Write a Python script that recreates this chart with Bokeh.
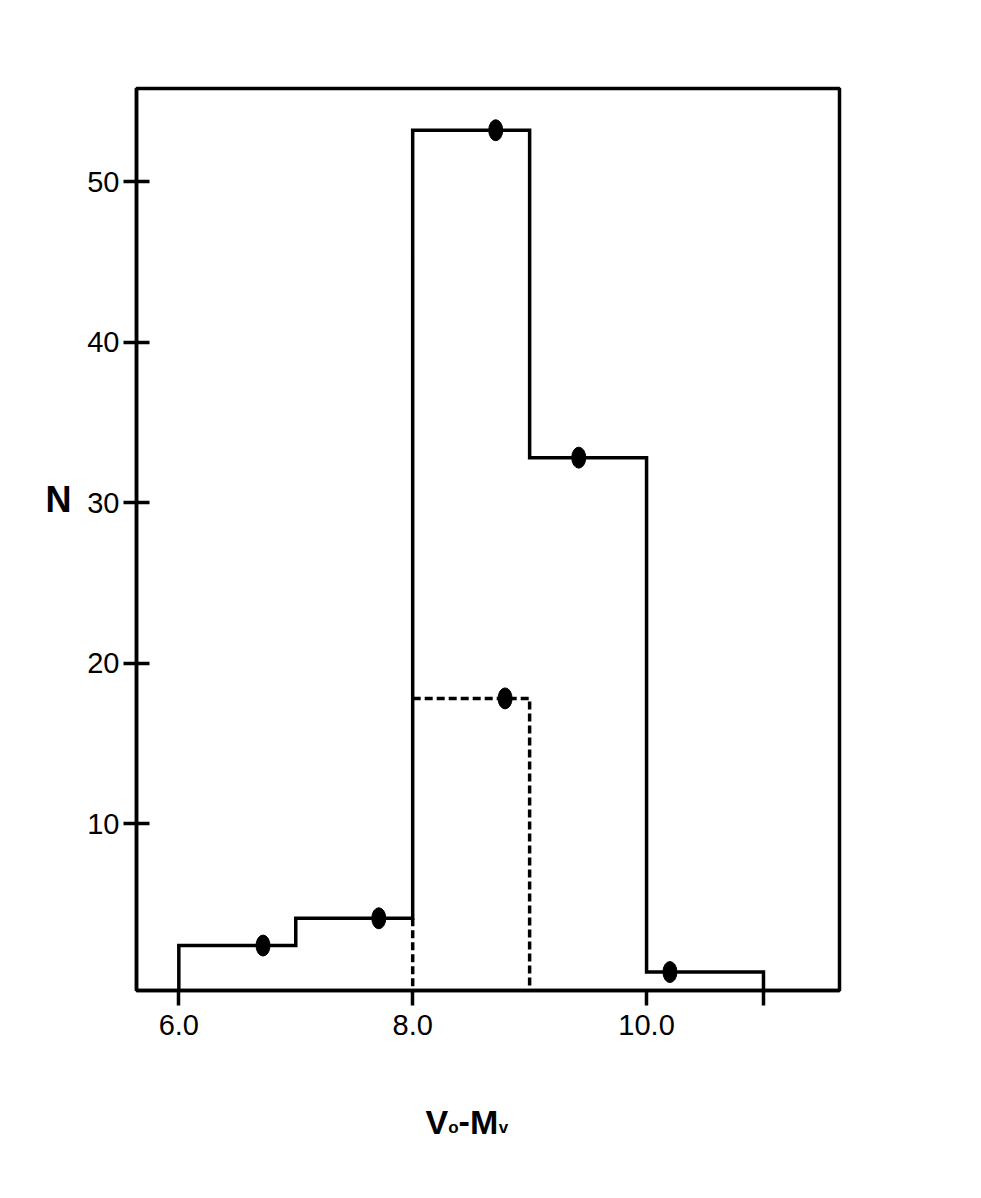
from bokeh.plotting import figure
from bokeh.models import Range1d, FixedTicker, Label
from bokeh.embed import file_html
from bokeh.resources import INLINE

# ---- data ----
bin_edges = [6.0, 7.0, 8.0, 9.0, 10.0, 11.0]
counts_all = [2.4, 4.1, 53.2, 32.8, 0.75]
sub_edges = [8.0, 9.0]
counts_sub = [17.8]
point_x = [6.72, 7.71, 8.71, 9.42, 10.2]
point_y = [2.4, 4.1, 53.2, 32.8, 0.75]
sub_point_x = [8.79]
sub_point_y = [17.8]
x_ticks = [6, 8, 10, 11]
x_tick_labels = {6: "6.0", 8: "8.0", 10: "10.0", 11: ""}
y_ticks = [10, 20, 30, 40, 50]

FONT = "Liberation Sans"
X0, X1 = 5.638, 11.65
Y0, Y1 = -0.4, 55.8
LW = 3.5

p = figure(width=965, height=1180, output_backend="svg", toolbar_location=None,
           x_range=Range1d(X0, X1), y_range=Range1d(Y0, Y1),
           min_border_left=136, min_border_right=126, min_border_top=88,
           min_border_bottom=190)
p.xgrid.visible = False
p.ygrid.visible = False
p.outline_line_color = "black"
p.outline_line_width = LW
p.outline_line_alpha = 1
p.background_fill_color = "white"
p.border_fill_color = "white"

# axes
for ax in (p.xaxis[0], p.yaxis[0]):
    ax.axis_line_width = LW
    ax.axis_line_color = "black"
    ax.major_tick_line_width = LW
    ax.major_tick_line_color = "black"
    ax.minor_tick_line_color = None
    ax.major_label_text_font = FONT
    ax.major_label_text_font_size = "29px"
    ax.major_label_text_color = "black"

p.xaxis[0].ticker = FixedTicker(ticks=x_ticks)
p.xaxis[0].major_label_overrides = x_tick_labels
p.xaxis[0].major_tick_in = 0
p.xaxis[0].major_tick_out = 15
p.xaxis[0].major_label_standoff = 9

p.yaxis[0].ticker = FixedTicker(ticks=y_ticks)
p.yaxis[0].major_tick_in = 13
p.yaxis[0].major_tick_out = 13
p.yaxis[0].major_label_standoff = 4

# solid step outline of full histogram
sx, sy = [bin_edges[0]], [Y0]
for i, c in enumerate(counts_all):
    sx += [bin_edges[i], bin_edges[i + 1]]
    sy += [c, c]
sx.append(bin_edges[-1])
sy.append(Y0)
p.line(sx, sy, line_color="black", line_width=LW, line_join="miter")

# dashed parts
p.line([sub_edges[0], sub_edges[0]], [counts_all[1], Y0], line_color="black",
       line_width=LW, line_dash="8 4")
p.line([sub_edges[0], sub_edges[1], sub_edges[1]], [counts_sub[0], counts_sub[0], Y0],
       line_color="black", line_width=LW, line_dash="8 4", line_join="miter")

# points
p.ellipse(x=point_x, y=point_y, width=14, height=21, width_units="screen",
          height_units="screen", fill_color="black", line_color="black")
p.ellipse(x=sub_point_x, y=sub_point_y, width=14, height=21, width_units="screen",
          height_units="screen", fill_color="black", line_color="black")

# axis titles as labels placed in the side panels (not clipped to the frame)
def lab(x, y, text, size, side, **kw):
    p.add_layout(Label(x=x, y=y, text=text, text_font=FONT, text_font_style="bold",
                       text_font_size=size, text_color="black", **kw), side)

lab(4.97, 30.2, "N", "36px", "left", text_align="center", text_baseline="middle")
base = -8.57
sub = base - 0.35
lab(8.110, base, "V", "34px", "below", text_align="left", text_baseline="alphabetic")
lab(8.305, sub, "o", "17px", "below", text_align="left", text_baseline="alphabetic")
lab(8.392, base, "-", "34px", "below", text_align="left", text_baseline="alphabetic")
lab(8.490, base, "M", "34px", "below", text_align="left", text_baseline="alphabetic")
lab(8.735, sub, "v", "17px", "below", text_align="left", text_baseline="alphabetic")

open("out.html", "w").write(file_html(p, INLINE))
